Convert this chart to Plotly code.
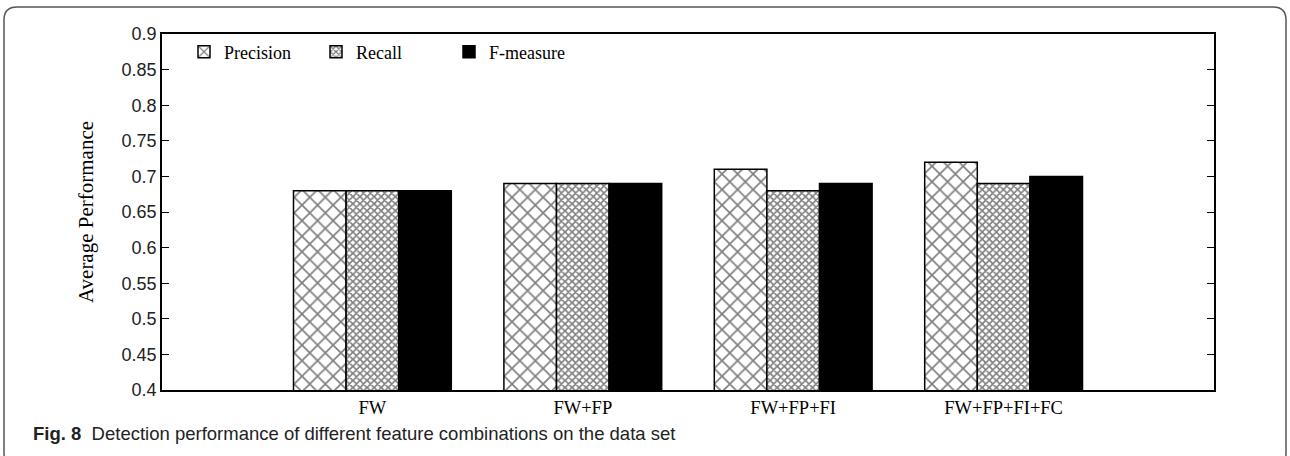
import plotly.graph_objects as go

categories = ["FW", "FW+FP", "FW+FP+FI", "FW+FP+FI+FC"]
precision = [0.68, 0.69, 0.71, 0.72]
recall = [0.68, 0.69, 0.68, 0.69]
fmeasure = [0.68, 0.69, 0.69, 0.70]
yticks = [0.4, 0.45, 0.5, 0.55, 0.6, 0.65, 0.7, 0.75, 0.8, 0.85, 0.9]

W, H = 1290, 456
L, R, T, B = 162, 1214, 34, 390
pw, ph = R - L, B - T

def px(x):
    return (x - L) / pw

def py(y):
    return (B - y) / ph

xpos = [i + 1 for i in range(len(categories))]
bw = 0.25
serif = "Liberation Serif"
sans = "Liberation Sans"

fig = go.Figure()
series = [
    ("Precision", precision, dict(shape="x", size=11, solidity=0.28, fgcolor="black", bgcolor="white"), "white", -bw, "legend"),
    ("Recall", recall, dict(shape="x", size=5, solidity=0.55, fgcolor="black", bgcolor="white"), "white", 0, "legend2"),
    ("F-measure", fmeasure, None, "black", bw, "legend3"),
]
for name, vals, pat, color, off, lg in series:
    marker = dict(color=color, line=dict(color="black", width=1.5))
    if pat:
        marker["pattern"] = pat
    fig.add_trace(go.Bar(
        x=[p + off for p in xpos], y=vals, name=name, width=bw,
        marker=marker, legend=lg,
    ))

# rounded border around the figure
x0, x1, y0, y1, r = 4, 1286, 7, 466, 13
path = (
    f"M {px(x0 + r)},{py(y0)} L {px(x1 - r)},{py(y0)} "
    f"Q {px(x1)},{py(y0)} {px(x1)},{py(y0 + r)} "
    f"L {px(x1)},{py(y1 - r)} Q {px(x1)},{py(y1)} {px(x1 - r)},{py(y1)} "
    f"L {px(x0 + r)},{py(y1)} Q {px(x0)},{py(y1)} {px(x0)},{py(y1 - r)} "
    f"L {px(x0)},{py(y0 + r)} Q {px(x0)},{py(y0)} {px(x0 + r)},{py(y0)} Z"
)

legend_common = dict(
    orientation="h", xanchor="left", yanchor="middle",
    bgcolor="rgba(0,0,0,0)", font=dict(family=serif, size=18, color="black"),
    itemwidth=30,
)

fig.update_layout(
    width=W, height=H,
    margin=dict(l=L, r=W - R, t=T, b=H - B, pad=0),
    paper_bgcolor="white", plot_bgcolor="white",
    barmode="overlay",
    showlegend=True,
    legend=dict(x=px(184), y=py(52), **legend_common),
    legend2=dict(x=px(316), y=py(52), **legend_common),
    legend3=dict(x=px(449), y=py(52), **legend_common),
    xaxis=dict(
        range=[0, 5], tickvals=xpos, ticktext=categories, ticks="",
        showline=True, linecolor="black", linewidth=1.5, mirror=True,
        showgrid=False, zeroline=False,
        tickfont=dict(family=serif, size=18.5, color="black"),
    ),
    yaxis=dict(
        range=[0.4, 0.9], tickvals=yticks, ticktext=[f"{v:g}" for v in yticks],
        ticks="inside", ticklen=7, tickcolor="black", tickwidth=1,
        showline=True, linecolor="black", linewidth=1.5, mirror="ticks",
        showgrid=False, zeroline=False,
        tickfont=dict(family=sans, size=18, color="#222"),
        title=dict(text="Average Performance", font=dict(family=serif, size=21, color="black"), standoff=22),
    ),
    shapes=[dict(type="path", xref="paper", yref="paper", path=path,
                 line=dict(color="#555", width=1.5), fillcolor="rgba(0,0,0,0)", layer="below")],
    annotations=[dict(
        xref="paper", yref="paper", x=px(31), y=py(442), xanchor="left", yanchor="bottom",
        yshift=-4, showarrow=False,
        text="<b>Fig. 8</b>  Detection performance of different feature combinations on the data set",
        font=dict(family=sans, size=18.5, color="#222"),
    )],
)

fig.write_html("out.html", config={"displayModeBar": False},
               post_script="document.body.style.margin='0';")
